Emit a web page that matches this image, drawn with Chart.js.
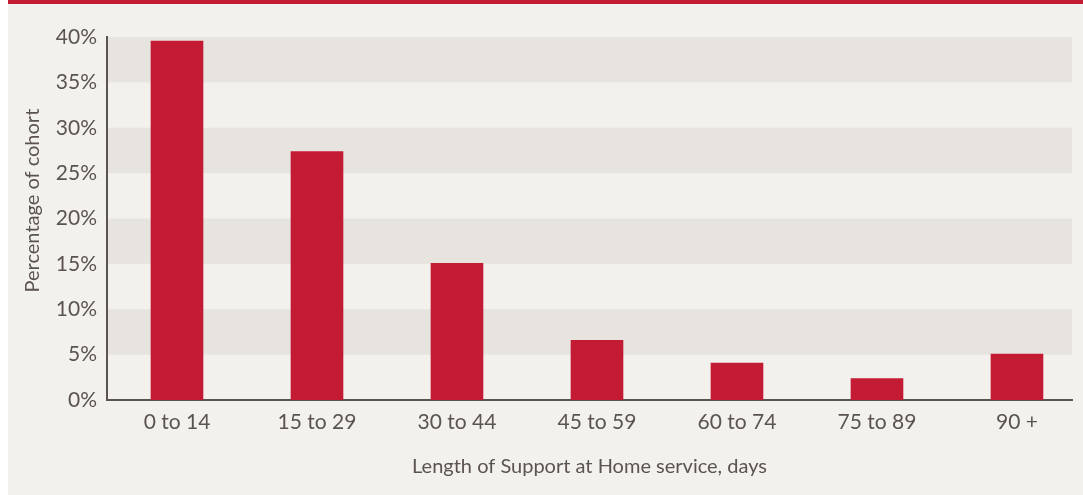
<!DOCTYPE html>
<html><head><meta charset="utf-8">
<script src="https://cdn.jsdelivr.net/npm/chart.js@4"></script>
<style>html,body{margin:0;padding:0;background:#fff}#wrap{width:1083px;height:495px;position:relative}</style>
</head><body><div id="wrap"><canvas id="c" width="1083" height="495"></canvas></div>
<script>
const categories = ["0 to 14","15 to 29","30 to 44","45 to 59","60 to 74","75 to 89","90 +"];
const percentages = [39.6, 27.4, 15.1, 6.6, 4.1, 2.4, 5.1];
const yTicks = [0,5,10,15,20,25,30,35,40];
const xTitle = "Length of Support at Home service, days";
const yTitle = "\u00a0\u00a0\u00a0\u00a0\u00a0\u00a0\u00a0Percentage of cohort";

const TEXT = "#5b5350";
const FONT = 'Lato';
const bg = {
  id:'bg',
  beforeDraw(chart){
    const ctx = chart.ctx;
    ctx.save();
    ctx.fillStyle = '#ffffff'; ctx.fillRect(0,0,chart.width,chart.height);
    ctx.fillStyle = '#f3f1ed'; ctx.fillRect(8,0,chart.width-8,chart.height);
    ctx.fillStyle = '#c21b33'; ctx.fillRect(8,0,chart.width-8,4);
    const y = chart.scales.y, a = chart.chartArea;
    ctx.fillStyle = '#e7e3de';
    for (let i=0;i<yTicks.length-1;i++){
      if (i%2===1){
        const t = y.getPixelForValue(yTicks[i+1]), b = y.getPixelForValue(yTicks[i]);
        ctx.fillRect(a.left, t, a.right-a.left, b-t);
      }
    }
    ctx.restore();
  }
};
new Chart(document.getElementById('c'), {
  type:'bar',
  data:{datasets:[{data:percentages.map((v,i)=>({x:i,y:v})), backgroundColor:'#c21b33', categoryPercentage:1, barPercentage:0.376}]},
  options:{
    responsive:false, animation:false,
    layout:{padding:{left:0,right:11,top:37,bottom:0}},
    plugins:{legend:{display:false}, tooltip:{enabled:false}},
    scales:{
      x:{
        type:'linear', min:-0.5, max:6.393, offset:false,
        grid:{display:false, drawTicks:false},
        border:{color:'#5b5350', width:2},
        ticks:{stepSize:1, includeBounds:false, autoSkip:false, maxRotation:0, color:TEXT, font:{family:FONT, size:21}, padding:10,
               callback:v=>categories[v] ?? ''},
        afterBuildTicks(s){ s.ticks = s.ticks.filter(t=>Number.isInteger(t.value) && t.value>=0 && t.value<categories.length); },
        title:{display:true, text:xTitle, color:TEXT, font:{family:FONT, size:20}, padding:{top:0,bottom:16}},
        afterFit(s){ s.height = 95; }
      },
      y:{
        min:0, max:40,
        grid:{display:false, drawTicks:false},
        border:{color:'#5b5350', width:2},
        ticks:{stepSize:5, color:TEXT, font:{family:FONT, size:21}, padding:10, callback:v=>v+'%'},
        title:{display:true, text:yTitle, color:TEXT, font:{family:FONT, size:20}, padding:{top:21,bottom:0}},
        afterFit(s){ s.width = 107; }
      }
    }
  },
  plugins:[bg]
});
</script></body></html>
